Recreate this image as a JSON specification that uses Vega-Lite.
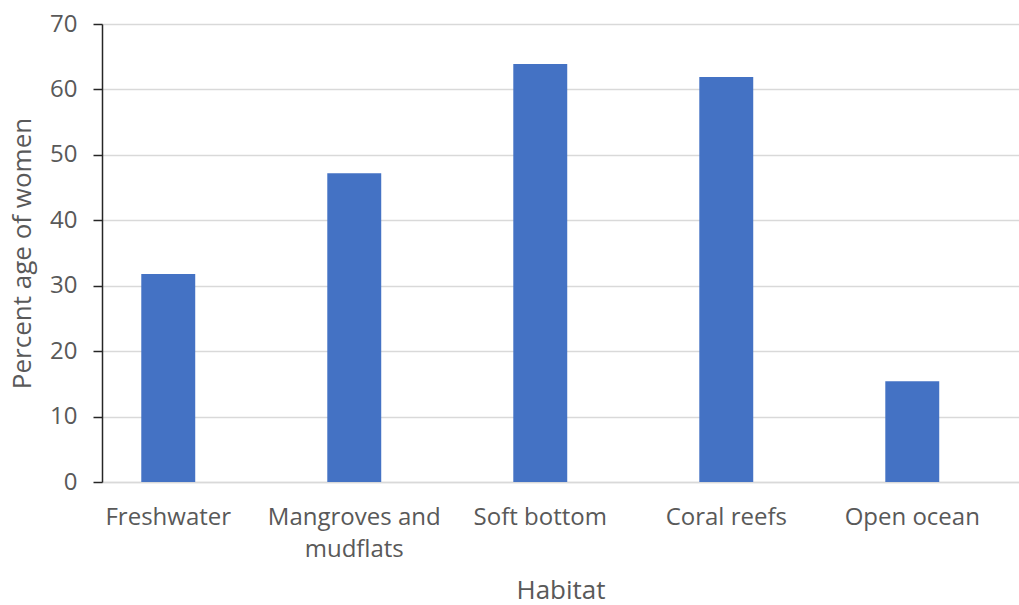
{
  "$schema": "https://vega.github.io/schema/vega-lite/v6.json",
  "autosize": "none",
  "padding": {"left": 102, "top": 24, "right": 0, "bottom": 123},
  "width": 917,
  "height": 458,
  "background": "white",
  "config": {
    "view": {"stroke": null},
    "font": "Open Sans",
    "axis": {"labelFont": "Open Sans", "titleFont": "Open Sans", "labelColor": "#595959", "titleColor": "#595959", "titleFontWeight": "normal"}
  },
  "data": {
    "values": [
      {"habitat": "Freshwater", "pct": 31.8},
      {"habitat": "Mangroves and mudflats", "pct": 47.2},
      {"habitat": "Soft bottom", "pct": 63.9},
      {"habitat": "Coral reefs", "pct": 61.9},
      {"habitat": "Open ocean", "pct": 15.4}
    ]
  },
  "mark": {"type": "bar", "color": "#4472C4"},
  "encoding": {
    "x": {
      "field": "habitat",
      "type": "nominal",
      "sort": null,
      "scale": {"paddingInner": 0.71, "paddingOuter": 0.32, "align": 0.33},
      "axis": {
        "title": "Habitat",
        "titleFontSize": 26,
        "titlePadding": 16,
        "labelFontSize": 24,
        "labelAngle": 0,
        "labelPadding": 23,
        "labelLineHeight": 32,
        "labelExpr": "datum.label == 'Mangroves and mudflats' ? ['Mangroves and', 'mudflats'] : datum.label",
        "ticks": false,
        "domainColor": "#D9D9D9",
        "domainWidth": 1.5,
        "grid": false
      }
    },
    "y": {
      "field": "pct",
      "type": "quantitative",
      "scale": {"domain": [0, 70], "nice": false},
      "axis": {
        "title": "Percent age of women",
        "titleFontSize": 26,
        "titlePadding": 14,
        "labelFontSize": 24,
        "labelPadding": 16,
        "values": [0, 10, 20, 30, 40, 50, 60, 70],
        "tickSize": 9,
        "tickColor": "#262626",
        "tickWidth": 1.5,
        "domainColor": "#262626",
        "domainWidth": 1.5,
        "gridColor": "#D9D9D9",
        "gridWidth": 1.5
      }
    }
  }
}
